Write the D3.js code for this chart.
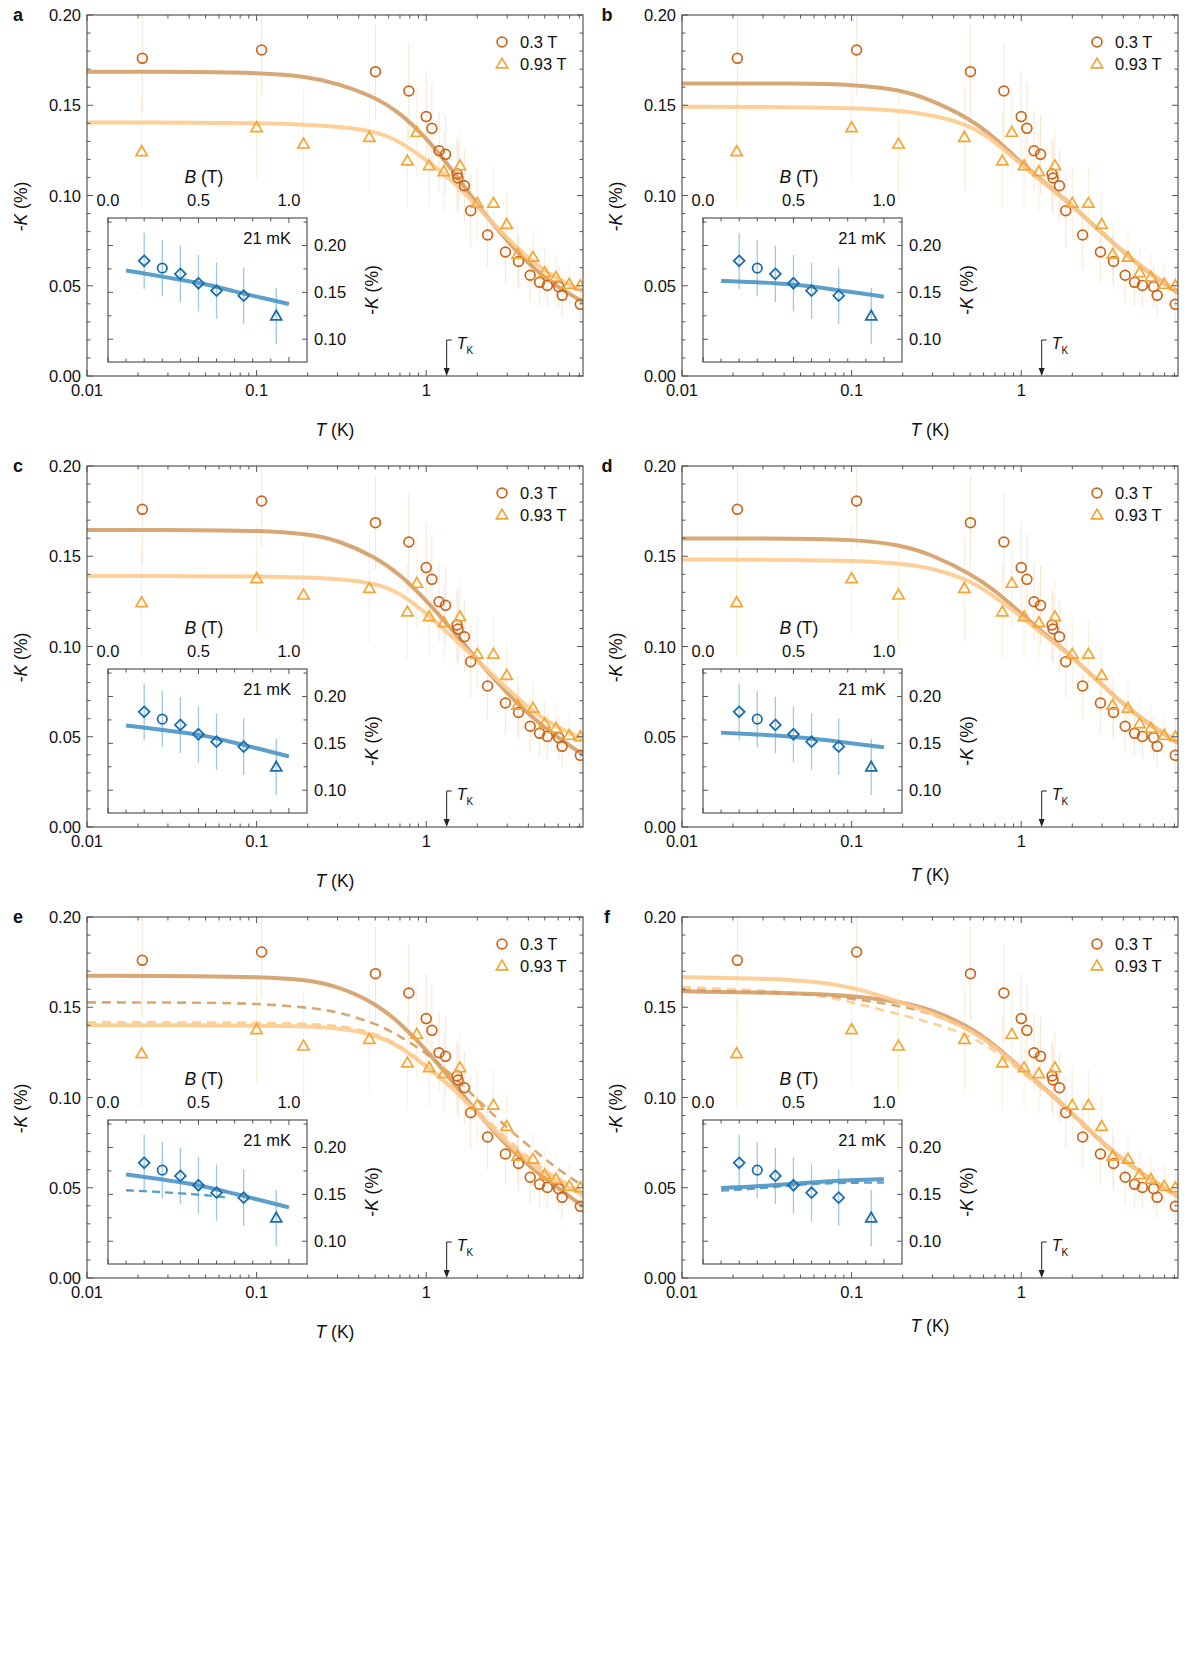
<!DOCTYPE html>
<html><head><meta charset="utf-8">
<script src="https://cdn.jsdelivr.net/npm/d3@7"></script>
<style>
body{margin:0;background:#fff}
svg{display:block}
text{font-family:"Liberation Sans",Arial,Helvetica,sans-serif;fill:#111}
</style>
</head><body>
<svg id="chart" width="1200" height="1665"></svg>
<script>
// ---------------- data ----------------
const panelLetters = ["a","b","c","d","e","f"];
const seriesLabels = ["0.3 T","0.93 T"];
const TK = 1.32;            // Kondo temperature marker (K)
const insetLabel = "21 mK";

// 0.3 T data (circles)
const T_03 = [0.0212,0.107,0.502,0.79,1.0,1.08,1.19,1.30,1.52,1.54,1.68,1.83,2.30,2.93,3.50,4.10,4.66,5.18,6.04,6.33,8.1];
const K_03 = [0.176,0.1806,0.1686,0.1579,0.1437,0.1372,0.1248,0.1228,0.1119,0.1097,0.1054,0.0916,0.0781,0.0687,0.0635,0.0558,0.0519,0.0502,0.0495,0.0447,0.0397];
const E_03 = [0.03,0.025,0.026,0.027,0.025,0.025,0.022,0.022,0.02,0.02,0.02,0.02,0.018,0.017,0.015,0.015,0.013,0.012,0.012,0.012,0.01];
// 0.93 T data (triangles)
const T_093 = [0.021,0.1,0.189,0.462,0.774,0.88,1.04,1.27,1.58,2.00,2.49,2.98,3.46,4.26,4.99,5.81,6.97,8.1];
const K_093 = [0.1243,0.1376,0.1285,0.1322,0.1191,0.135,0.1165,0.1132,0.1165,0.0957,0.0957,0.084,0.0674,0.0658,0.0572,0.0547,0.0508,0.050];
const E_093 = [0.03,0.03,0.03,0.03,0.026,0.025,0.022,0.022,0.02,0.02,0.02,0.018,0.016,0.015,0.014,0.013,0.012,0.011];

// fit curves sampled on this T grid
const fitT = [0.01,0.05,0.1,0.2,0.3,0.5,0.7,1.0,1.4,2.0,3.0,4.5,6.0,8.4];
const fitA_03  = [0.1686,0.1685,0.1680,0.1660,0.1620,0.1545,0.1458,0.1320,0.1150,0.0950,0.0745,0.0575,0.0492,0.0410];
const fitA_093 = [0.1404,0.1404,0.1401,0.1393,0.1382,0.1358,0.1300,0.1197,0.1090,0.0940,0.0760,0.0610,0.0535,0.0470];
const fitB_03  = [0.1621,0.1621,0.1615,0.1585,0.1525,0.1425,0.1320,0.1180,0.1065,0.0945,0.0790,0.0645,0.0555,0.0460];
const fitB_093 = [0.1492,0.1490,0.1485,0.1470,0.1445,0.1390,0.1300,0.1170,0.1060,0.0945,0.0792,0.0648,0.0560,0.0468];
const fitC_03  = [0.1645,0.1645,0.1642,0.1625,0.1590,0.1497,0.1400,0.1257,0.1100,0.0924,0.0740,0.0582,0.0495,0.0400];
const fitC_093 = [0.1390,0.1390,0.1388,0.1383,0.1375,0.1350,0.1300,0.1183,0.1060,0.0924,0.0765,0.0620,0.0550,0.0490];
const fitD_03  = [0.1599,0.1598,0.1594,0.1562,0.1506,0.1405,0.1312,0.1183,0.1063,0.0943,0.0786,0.0638,0.0555,0.0466];
const fitD_093 = [0.1482,0.1480,0.1475,0.1460,0.1433,0.1368,0.1275,0.1165,0.1054,0.0943,0.0786,0.0640,0.0558,0.0470];
const fitE_03  = [0.1675,0.1672,0.1668,0.1653,0.1616,0.1524,0.1413,0.1265,0.1099,0.0914,0.0729,0.0582,0.0499,0.0397];
const fitE_093 = [0.1400,0.1400,0.1398,0.1394,0.1385,0.1348,0.1283,0.1173,0.1062,0.0914,0.0750,0.0600,0.0530,0.0460];
const fitE_03d = [0.1527,0.1526,0.1520,0.1500,0.1475,0.1413,0.1340,0.1247,0.1130,0.0990,0.0830,0.0695,0.0600,0.0510];
const fitE_093d= [0.1416,0.1416,0.1414,0.1408,0.1400,0.1360,0.1290,0.1180,0.1070,0.0930,0.0770,0.0625,0.0550,0.0475];
const fitF_03  = [0.1588,0.1579,0.1565,0.1530,0.1485,0.1390,0.1290,0.1160,0.1045,0.0914,0.0748,0.0619,0.0536,0.0452];
const fitF_093 = [0.1667,0.1656,0.1616,0.1524,0.1468,0.1376,0.1283,0.1154,0.1043,0.0914,0.0748,0.0619,0.0536,0.0452];
const fitF_03d = [0.1597,0.1575,0.1550,0.1505,0.1465,0.1375,0.1280,0.1150,0.1040,0.0910,0.0745,0.0615,0.0532,0.0450];
const fitF_093d= [0.1612,0.1585,0.1530,0.1455,0.1415,0.1340,0.1260,0.1140,0.1035,0.0905,0.0740,0.0610,0.0528,0.0445];

// inset: field dependence at 21 mK
const insB = [0.2,0.3,0.4,0.5,0.6,0.75,0.93];
const insK = [0.1836,0.1758,0.1697,0.1597,0.1518,0.1465,0.1247];
const insE = [0.03,0.03,0.03,0.03,0.03,0.03,0.03];
const insShape = ["diamond","circle","diamond","diamond","diamond","diamond","triangle"];
const insFitB = [0.1,0.25,0.4,0.55,0.7,0.85,1.0];
const insFitA = [0.1732,0.1686,0.1632,0.1588,0.1507,0.1443,0.1375];
const insFitB_ = [0.1622,0.1612,0.1598,0.1575,0.1535,0.1495,0.1454];
const insFitC = [0.1690,0.1655,0.1620,0.1580,0.1505,0.1435,0.1360];
const insFitD = [0.1614,0.1600,0.1585,0.1562,0.1530,0.1494,0.1458];
const insFitE = [0.1712,0.1672,0.1630,0.1580,0.1505,0.1435,0.1361];
const insFitEdB = [0.1,0.25,0.4,0.55,0.65];
const insFitEd = [0.1543,0.1530,0.1510,0.1490,0.1468];
const insFitF = [0.1569,0.1580,0.1598,0.1620,0.1642,0.1655,0.1661];
const insFitFd = [0.1540,0.1555,0.1580,0.1605,0.1620,0.1625,0.1626];

// axis settings
const xDomain = [0.01, 8.4];
const yDomain = [0, 0.20];
const yTicks = d3.range(0, 0.2001, 0.01);
const insXDomain = [0, 1.1];
const insYDomain = [0.0757, 0.2293];
const insXTicks = d3.range(0, 1.0001, 0.1);
const insYTicks = [0.1,0.125,0.15,0.175,0.2,0.225];

// ---------------- style / layout ----------------
const C03 = "#c9661c", C093 = "#f5a533";
const FIT03 = "#d39b63", FIT093 = "#fdc98c";
const ERR03 = "#f3c79f", ERR093 = "#fbdcae";
const BLUE = "#1b6da8", BLUEFIT = "#4f96c6", BLUEERR = "#9ec8e6";
const AX = "#555";
const W = 496, H = 361;
const colX = [87, 682], rowY = [15, 466, 917];

const panels = [
  {fits:[{d:fitA_03,c:FIT03},{d:fitA_093,c:FIT093}], ins:[{b:insFitB,d:insFitA}], xt:54},
  {fits:[{d:fitB_03,c:FIT03},{d:fitB_093,c:FIT093}], ins:[{b:insFitB,d:insFitB_}], xt:54},
  {fits:[{d:fitC_03,c:FIT03},{d:fitC_093,c:FIT093}], ins:[{b:insFitB,d:insFitC}], xt:54},
  {fits:[{d:fitD_03,c:FIT03},{d:fitD_093,c:FIT093}], ins:[{b:insFitB,d:insFitD}], xt:48},
  {fits:[{d:fitE_03d,c:FIT03,dash:true},{d:fitE_093d,c:FIT093,dash:true},{d:fitE_03,c:FIT03},{d:fitE_093,c:FIT093}],
   ins:[{b:insFitEdB,d:insFitEd,dash:true},{b:insFitB,d:insFitE}], xt:54},
  {fits:[{d:fitF_03d,c:FIT03,dash:true},{d:fitF_093d,c:FIT093,dash:true},{d:fitF_03,c:FIT03},{d:fitF_093,c:FIT093}],
   ins:[{b:insFitB,d:insFitFd,dash:true},{b:insFitB,d:insFitF}], xt:48}
];

const svg = d3.select("#chart");

function sym(shape, s){
  if(shape==="circle") return d3.symbol().type(d3.symbolCircle).size(Math.PI*s*s)();
  if(shape==="triangle") return `M0,${-s*1.2}L${s*1.15},${s*0.8}L${-s*1.15},${s*0.8}Z`;
  return `M0,${-s*1.15}L${s*1.15},0L0,${s*1.15}L${-s*1.15},0Z`;
}

panels.forEach((p, i) => {
  const gx = colX[i%2], gy = rowY[Math.floor(i/2)];
  const g = svg.append("g").attr("transform", `translate(${gx},${gy})`);
  const x = d3.scaleLog().domain(xDomain).range([0, W]);
  const y = d3.scaleLinear().domain(yDomain).range([H, 0]);
  const clipId = "clip"+i;
  g.append("clipPath").attr("id", clipId).append("rect").attr("width", W).attr("height", H);
  const pg = g.append("g").attr("clip-path", `url(#${clipId})`);

  // error bars
  T_03.forEach((t,k)=> pg.append("line").attr("x1",x(t)).attr("x2",x(t))
    .attr("y1",y(K_03[k]-E_03[k])).attr("y2",y(K_03[k]+E_03[k]))
    .attr("stroke",ERR03).attr("stroke-width",1.1).attr("opacity",0.42));
  T_093.forEach((t,k)=> pg.append("line").attr("x1",x(t)).attr("x2",x(t))
    .attr("y1",y(K_093[k]-E_093[k])).attr("y2",y(K_093[k]+E_093[k]))
    .attr("stroke",ERR093).attr("stroke-width",1.1).attr("opacity",0.42));

  // fits
  const line = d3.line().x((d,k)=>x(fitT[k])).y(d=>y(d)).curve(d3.curveBasis);
  p.fits.forEach(f => {
    pg.append("path").attr("d", line(f.d)).attr("fill","none").attr("stroke", f.c)
      .attr("stroke-width", f.dash?2.6:4).attr("stroke-dasharray", f.dash?"9,6":null)
      .attr("opacity", 0.88).attr("stroke-linecap","butt");
  });

  // markers
  T_03.forEach((t,k)=> pg.append("path").attr("d", sym("circle",4.9))
    .attr("transform",`translate(${x(t)},${y(K_03[k])})`)
    .attr("fill","none").attr("stroke",C03).attr("stroke-width",1.7));
  T_093.forEach((t,k)=> pg.append("path").attr("d", sym("triangle",4.9))
    .attr("transform",`translate(${x(t)},${y(K_093[k])})`)
    .attr("fill","none").attr("stroke",C093).attr("stroke-width",1.7));

  // frame
  g.append("rect").attr("width",W).attr("height",H).attr("fill","none").attr("stroke",AX).attr("stroke-width",1.2);
  // x ticks
  x.ticks().forEach(t => {
    const major = Math.abs(Math.log10(t) - Math.round(Math.log10(t))) < 1e-6;
    const L = major ? 6 : 3.5;
    g.append("line").attr("x1",x(t)).attr("x2",x(t)).attr("y1",H).attr("y2",H-L).attr("stroke",AX);
    g.append("line").attr("x1",x(t)).attr("x2",x(t)).attr("y1",0).attr("y2",L).attr("stroke",AX);
    if(major) g.append("text").attr("x",x(t)).attr("y",H+20).attr("text-anchor","middle")
      .attr("font-size",16.5).text(t>=1?d3.format("d")(t):String(t));
  });
  // y ticks
  yTicks.forEach(v => {
    const major = Math.abs(v*20 - Math.round(v*20)) < 1e-6;
    const L = major ? 6 : 3.5;
    g.append("line").attr("x1",0).attr("x2",L).attr("y1",y(v)).attr("y2",y(v)).attr("stroke",AX);
    g.append("line").attr("x1",W).attr("x2",W-L).attr("y1",y(v)).attr("y2",y(v)).attr("stroke",AX);
    if(major) g.append("text").attr("x",-6).attr("y",y(v)+6).attr("text-anchor","end")
      .attr("font-size",16.5).text(d3.format(".2f")(v));
  });
  // axis titles
  const yt = g.append("text").attr("transform",`translate(-60,${H/2+11}) rotate(-90)`)
    .attr("text-anchor","middle").attr("font-size",17.5);
  yt.append("tspan").text("-");
  yt.append("tspan").attr("font-style","italic").text("K");
  yt.append("tspan").text(" (%)");
  const xt = g.append("text").attr("x",W/2).attr("y",H+p.xt+6).attr("text-anchor","middle").attr("font-size",17.5);
  xt.append("tspan").attr("font-style","italic").text("T");
  xt.append("tspan").text(" (K)");
  // panel letter
  g.append("text").attr("x", i%2===0 ? -69 : -75).attr("y",6).attr("text-anchor","middle")
    .attr("font-size",18).attr("font-weight","bold").text(panelLetters[i]);

  // legend
  const lg = g.append("g").attr("transform","translate(415,27)");
  lg.append("path").attr("d",sym("circle",4.9)).attr("fill","none").attr("stroke",C03).attr("stroke-width",1.7);
  lg.append("text").attr("x",18).attr("y",6).attr("font-size",16.5).text(seriesLabels[0]);
  lg.append("path").attr("d",sym("triangle",4.9)).attr("transform","translate(0,22)").attr("fill","none").attr("stroke",C093).attr("stroke-width",1.7);
  lg.append("text").attr("x",18).attr("y",28).attr("font-size",16.5).text(seriesLabels[1]);

  // T_K arrow
  const tx = x(TK);
  g.append("path").attr("d",`M${tx+5},${H-36}L${tx},${H-36}L${tx},${H-7}`).attr("fill","none").attr("stroke","#222").attr("stroke-width",1);
  g.append("path").attr("d",`M${tx-3},${H-8}L${tx+3},${H-8}L${tx},${H}Z`).attr("fill","#222");
  const tk = g.append("text").attr("x",tx+10).attr("y",H-27).attr("font-size",16);
  tk.append("tspan").attr("font-style","italic").text("T");
  tk.append("tspan").attr("font-size",10).attr("dy",5).text("K");

  // ---------- inset ----------
  const IW = 199, IH = 144;
  const ig = g.append("g").attr("transform","translate(21,203)");
  const xb = d3.scaleLinear().domain(insXDomain).range([0, IW]);
  const yb = d3.scaleLinear().domain(insYDomain).range([IH, 0]);
  insB.forEach((b,k)=> ig.append("line").attr("x1",xb(b)).attr("x2",xb(b))
    .attr("y1",yb(insK[k]-insE[k])).attr("y2",yb(insK[k]+insE[k]))
    .attr("stroke",BLUEERR).attr("stroke-width",1.3));
  const il = (bs) => d3.line().x((d,k)=>xb(bs[k])).y(d=>yb(d)).curve(d3.curveBasis);
  p.ins.forEach(f => {
    ig.append("path").attr("d", il(f.b)(f.d)).attr("fill","none").attr("stroke",BLUEFIT)
      .attr("stroke-width", f.dash?2.4:4).attr("stroke-dasharray", f.dash?"8,5":null).attr("opacity",0.92);
  });
  insB.forEach((b,k)=> ig.append("path").attr("d", sym(insShape[k], 4.7))
    .attr("transform",`translate(${xb(b)},${yb(insK[k])})`)
    .attr("fill","none").attr("stroke",BLUE).attr("stroke-width",1.8));
  ig.append("rect").attr("width",IW).attr("height",IH).attr("fill","none").attr("stroke",AX).attr("stroke-width",1.2);
  insXTicks.forEach(b => {
    const major = Math.abs(b*2 - Math.round(b*2)) < 1e-6;
    const L = major ? 5 : 3.5;
    ig.append("line").attr("x1",xb(b)).attr("x2",xb(b)).attr("y1",0).attr("y2",L).attr("stroke",AX);
    ig.append("line").attr("x1",xb(b)).attr("x2",xb(b)).attr("y1",IH).attr("y2",IH-L).attr("stroke",AX);
    if(major) ig.append("text").attr("x",xb(b)).attr("y",-12).attr("text-anchor","middle")
      .attr("font-size",16.5).text(d3.format(".1f")(b));
  });
  insYTicks.forEach(v => {
    const major = Math.abs(v*20 - Math.round(v*20)) < 1e-6;
    const L = major ? 5 : 3.5;
    ig.append("line").attr("x1",0).attr("x2",L).attr("y1",yb(v)).attr("y2",yb(v)).attr("stroke",AX);
    ig.append("line").attr("x1",IW).attr("x2",IW-L).attr("y1",yb(v)).attr("y2",yb(v)).attr("stroke",AX);
    if(major) ig.append("text").attr("x",IW+7).attr("y",yb(v)+6).attr("font-size",16.5).text(d3.format(".2f")(v));
  });
  const bt = ig.append("text").attr("x",xb(0.53)).attr("y",-35).attr("text-anchor","middle").attr("font-size",17.5);
  bt.append("tspan").attr("font-style","italic").text("B");
  bt.append("tspan").text(" (T)");
  const iyt = ig.append("text").attr("transform",`translate(270,${IH/2}) rotate(-90)`).attr("text-anchor","middle").attr("font-size",17.5);
  iyt.append("tspan").text("-");
  iyt.append("tspan").attr("font-style","italic").text("K");
  iyt.append("tspan").text(" (%)");
  ig.append("text").attr("x",IW-16).attr("y",26).attr("text-anchor","end").attr("font-size",16.5).text(insetLabel);
});
</script>
</body></html>
